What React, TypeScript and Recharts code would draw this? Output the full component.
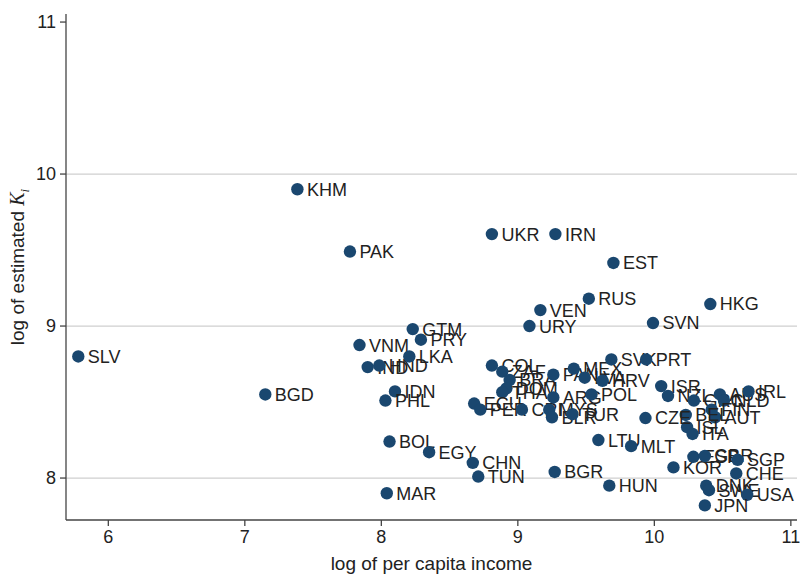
import React from "react";
import { ScatterChart, Scatter, XAxis, YAxis, ReferenceLine } from "recharts";

const countries = [
  "SLV","BGD","KHM","PAK","VNM","IND","HND","LKA","GTM","PRY",
  "IDN","PHL","BOL","EGY","CHN","TUN","MAR","UKR","IRN","EST",
  "RUS","VEN","URY","SVN","HKG","COL","ZAF","BRA","DOM","THA",
  "ECU","PER","CRI","MYS","BLR","TUR","PAN","ARG","MEX","LVA",
  "HRV","POL","SVK","PRT","ISR","NZL","GRC","AUS","NLD","IRL",
  "FIN","AUT","BEL","ISL","ITA","CZE","LTU","MLT","BGR","HUN",
  "KOR","ESP","GBR","SGP","CHE","DNK","SWE","USA","JPN"
];
const incomeLog = [
  5.78,7.15,7.385,7.77,7.84,7.90,7.985,8.205,8.23,8.29,
  8.10,8.03,8.06,8.35,8.67,8.71,8.04,8.81,9.275,9.70,
  9.52,9.165,9.085,9.99,10.41,8.81,8.886,8.94,8.916,8.886,
  8.68,8.725,9.03,9.23,9.25,9.40,9.26,9.26,9.41,9.49,
  9.62,9.54,9.685,9.94,10.05,10.10,10.29,10.48,10.51,10.69,
  10.42,10.445,10.23,10.24,10.28,9.935,9.59,9.83,9.27,9.67,
  10.14,10.286,10.37,10.61,10.60,10.38,10.40,10.68,10.37
];
const kLog = [
  8.80,8.55,9.90,9.49,8.875,8.73,8.74,8.80,8.98,8.91,
  8.57,8.51,8.24,8.17,8.10,8.01,7.90,9.605,9.605,9.415,
  9.18,9.105,9.00,9.02,9.145,8.74,8.70,8.645,8.59,8.565,
  8.49,8.45,8.45,8.45,8.40,8.42,8.68,8.53,8.72,8.66,
  8.64,8.55,8.78,8.78,8.605,8.54,8.51,8.55,8.51,8.57,
  8.45,8.40,8.415,8.335,8.29,8.395,8.25,8.21,8.04,7.95,
  8.07,8.14,8.145,8.12,8.03,7.95,7.92,7.89,7.82
];
const xTicks = [6, 7, 8, 9, 10, 11];
const yTicks = [8, 9, 10, 11];
const gridLines = [8, 9, 10];

const data = countries.map((name, i) => ({ name, x: incomeLog[i], y: kLog[i] }));

const FONT = "'Liberation Sans', Arial, Helvetica, sans-serif";
const DOT = "#1a476f";
const TEXT = "#222222";

const PointShape = (props: any) => {
  const { cx, cy, payload } = props;
  return (
    <g>
      <circle cx={cx} cy={cy} r={6.2} fill={DOT} />
      <text
        x={cx + 9.5}
        y={cy}
        dy="0.36em"
        fontSize={18}
        fontFamily={FONT}
        fill={TEXT}
      >
        {payload.name}
      </text>
    </g>
  );
};

const YTitle = (props: any) => {
  const vb = props.viewBox || { y: 14, height: 506 };
  const cy = vb.y + vb.height / 2;
  return (
    <text
      x={24}
      y={cy}
      transform={`rotate(-90, 24, ${cy})`}
      textAnchor="middle"
      fontSize={19}
      fontFamily={FONT}
      fill={TEXT}
    >
      log of estimated{" "}
      <tspan fontFamily="'Liberation Serif', 'Times New Roman', serif" fontStyle="italic" fontSize={20}>K</tspan>
      <tspan fontFamily="'Liberation Serif', 'Times New Roman', serif" fontStyle="italic" fontSize={13} dy={5}>i</tspan>
    </text>
  );
};

const XTitle = (props: any) => {
  const vb = props.viewBox || { x: 66, width: 731 };
  const cx = vb.x + vb.width / 2;
  return (
    <text
      x={cx}
      y={563}
      dy="0.36em"
      textAnchor="middle"
      fontSize={19}
      fontFamily={FONT}
      fill={TEXT}
    >
      log of per capita income
    </text>
  );
};

export default function App() {
  return (
    <div style={{ position: "absolute", left: 0, top: 0, width: 800, height: 574, background: "#fff" }}>
      <ScatterChart
        width={800}
        height={574}
        margin={{ top: 14, right: 3, bottom: 0, left: 0 }}
      >
        {gridLines.map((g) => (
          <ReferenceLine key={g} y={g} stroke="#cfcfcf" strokeWidth={1.2} />
        ))}
        <XAxis
          type="number"
          dataKey="x"
          domain={[5.69, 11.045]}
          ticks={xTicks}
          allowDataOverflow
          height={54}
          stroke="#444"
          strokeWidth={1.3}
          tickSize={6}
          tickLine={{ stroke: "#444" }}
          tick={{ fontSize: 18, fontFamily: FONT, fill: TEXT }}
          tickMargin={4}
          label={{ content: XTitle }}
        />
        <YAxis
          type="number"
          dataKey="y"
          domain={[7.724, 11.053]}
          ticks={yTicks}
          allowDataOverflow
          width={66}
          stroke="#444"
          strokeWidth={1.3}
          tickSize={6}
          tickLine={{ stroke: "#444" }}
          tick={{ fontSize: 18, fontFamily: FONT, fill: TEXT }}
          tickMargin={4}
          label={{ content: YTitle }}
        />
        <Scatter data={data} isAnimationActive={false} shape={PointShape} />
      </ScatterChart>
    </div>
  );
}
